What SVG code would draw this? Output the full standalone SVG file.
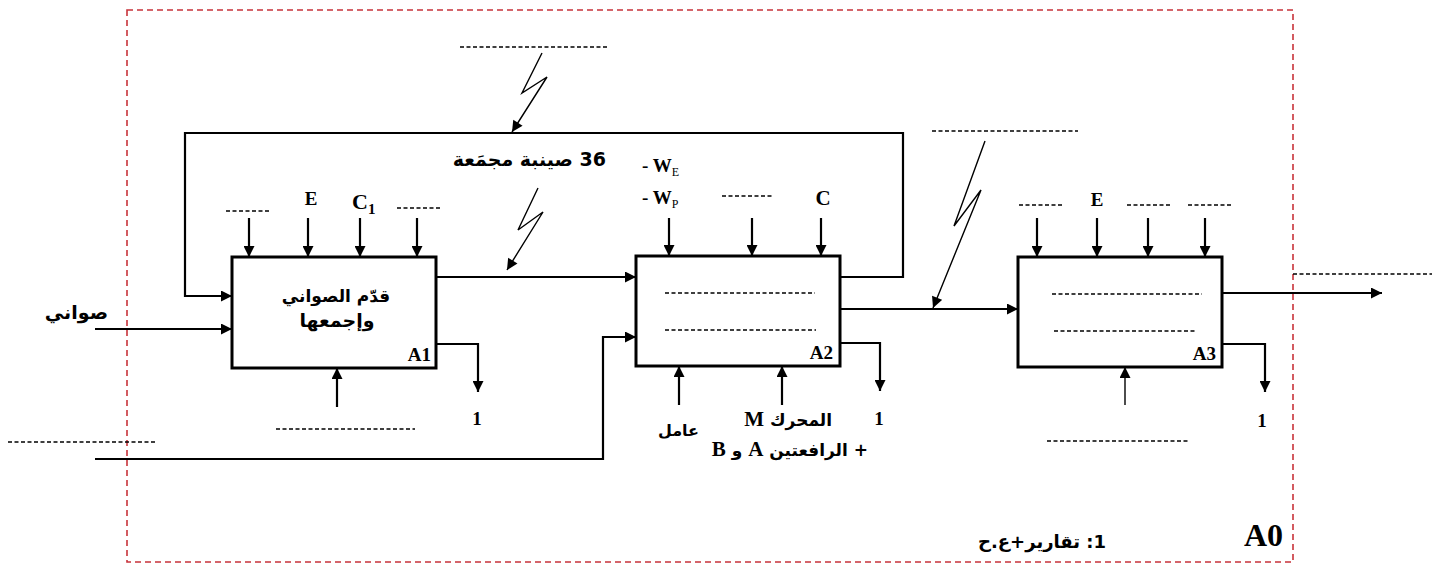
<svg xmlns="http://www.w3.org/2000/svg" width="1438" height="566" viewBox="0 0 1438 566">
<defs>
<marker id="ah" viewBox="0 0 10 10" refX="10" refY="5" markerWidth="13" markerHeight="11" markerUnits="userSpaceOnUse" orient="auto">
<path d="M0,0 L10,5 L0,10 z" fill="#000"/>
</marker>
</defs>
<style>
.box{fill:#fff;stroke:#000;stroke-width:3}
.ln{fill:none;stroke:#000;stroke-width:2.2}
.thin{fill:none;stroke:#000;stroke-width:1.4}
.dash{fill:none;stroke:#000;stroke-width:1.5;stroke-dasharray:4 2.5}
.frame{fill:none;stroke:#c8323a;stroke-width:1.6;stroke-dasharray:6 4}
.lat{font-family:"Liberation Serif",serif;font-weight:bold;fill:#000}
.ar{font-family:"DejaVu Sans",sans-serif;font-weight:bold;fill:#000}
</style>
<rect id="frame" class="frame" x="127" y="10" width="1166" height="552"/>

<g id="connectors">
<polyline class="ln" points="840,277 903,277 903,133 185,133 185,296 232,296" marker-end="url(#ah)"/>
<line class="ln" x1="95" y1="329" x2="232" y2="329" marker-end="url(#ah)"/>
<line class="ln" x1="436" y1="277" x2="636" y2="277" marker-end="url(#ah)"/>
<polyline class="ln" points="95,459 603,459 603,337 636,337" marker-end="url(#ah)"/>
<line class="ln" x1="840" y1="309" x2="1018" y2="309" marker-end="url(#ah)"/>
<line class="ln" x1="1222" y1="293" x2="1382" y2="293" marker-end="url(#ah)"/>
<line class="ln" x1="249" y1="218" x2="249" y2="257" marker-end="url(#ah)"/>
<line class="ln" x1="308" y1="218" x2="308" y2="257" marker-end="url(#ah)"/>
<line class="ln" x1="360" y1="218" x2="360" y2="257" marker-end="url(#ah)"/>
<line class="ln" x1="417" y1="218" x2="417" y2="257" marker-end="url(#ah)"/>
<line class="ln" x1="669" y1="218" x2="669" y2="256" marker-end="url(#ah)"/>
<line class="ln" x1="752" y1="218" x2="752" y2="256" marker-end="url(#ah)"/>
<line class="ln" x1="821" y1="218" x2="821" y2="256" marker-end="url(#ah)"/>
<line class="ln" x1="1037" y1="218" x2="1037" y2="257" marker-end="url(#ah)"/>
<line class="ln" x1="1097" y1="218" x2="1097" y2="257" marker-end="url(#ah)"/>
<line class="ln" x1="1148" y1="218" x2="1148" y2="257" marker-end="url(#ah)"/>
<line class="ln" x1="1205" y1="218" x2="1205" y2="257" marker-end="url(#ah)"/>
<line class="ln" x1="337" y1="407" x2="337" y2="368" marker-end="url(#ah)"/>
<line class="ln" x1="679" y1="405" x2="679" y2="366" marker-end="url(#ah)"/>
<line class="ln" x1="782" y1="405" x2="782" y2="366" marker-end="url(#ah)"/>
<line class="thin" x1="1125" y1="405" x2="1125" y2="367" marker-end="url(#ah)"/>
<polyline class="ln" points="436,344 478,344 478,392" marker-end="url(#ah)"/>
<polyline class="ln" points="840,343 880,343 880,391" marker-end="url(#ah)"/>
<polyline class="ln" points="1222,344 1265,344 1265,392" marker-end="url(#ah)"/>
<polyline class="thin" points="542,53 522,93 547,77 512,132" marker-end="url(#ah)"/>
<polyline class="thin" points="538,188 518,230 543,212 507,270" marker-end="url(#ah)"/>
<polyline class="thin" points="985,141 954,226 981,190 933,308" marker-end="url(#ah)"/>
</g>

<g id="labels">
<line class="dash" x1="460" y1="47" x2="607" y2="47"/>
<line class="dash" x1="932" y1="131" x2="1078" y2="131"/>
<line class="dash" x1="8" y1="442" x2="157" y2="442"/>
<line class="dash" x1="1293" y1="274" x2="1432" y2="274"/>
<line class="dash" x1="276" y1="429" x2="415" y2="429"/>
<line class="dash" x1="1047" y1="441" x2="1188" y2="441"/>
<line class="dash" x1="226" y1="211" x2="270" y2="211"/>
<line class="dash" x1="397" y1="208" x2="441" y2="208"/>
<line class="dash" x1="722" y1="196" x2="773" y2="196"/>
<line class="dash" x1="1019" y1="205" x2="1064" y2="205"/>
<line class="dash" x1="1127" y1="205" x2="1172" y2="205"/>
<line class="dash" x1="1188" y1="205" x2="1233" y2="205"/>
<text class="ar" x="606" y="166" font-size="19" direction="rtl" text-anchor="start">36 صينبة مجمَعة</text>
<text class="ar" x="108" y="319" font-size="19" direction="rtl" text-anchor="start">صواني</text>
<text class="lat" x="311" y="205" font-size="19" text-anchor="middle">E</text>
<text class="lat" x="352" y="209" font-size="22" font-weight="normal">C<tspan font-size="15" dy="5" font-weight="bold">1</tspan></text>
<text class="lat" x="642" y="172" font-size="19">- W<tspan font-size="12" dy="4" font-weight="normal">E</tspan></text>
<text class="lat" x="642" y="204" font-size="19">- W<tspan font-size="12" dy="4" font-weight="normal">P</tspan></text>
<text class="lat" x="823" y="205" font-size="21" font-weight="normal" text-anchor="middle">C</text>
<text class="lat" x="1097" y="206" font-size="19" text-anchor="middle">E</text>
<text class="lat" x="477" y="425" font-size="19" text-anchor="middle">1</text>
<text class="lat" x="879" y="425" font-size="19" text-anchor="middle">1</text>
<text class="lat" x="1262" y="427" font-size="19" text-anchor="middle">1</text>
<text class="ar" x="699" y="436" font-size="16" direction="rtl" text-anchor="start">عامل</text>
<text class="ar" x="832" y="426" font-size="17" direction="rtl" text-anchor="start">المحرك <tspan class="lat" font-size="21">M</tspan></text>
<text class="ar" x="868" y="456" font-size="17" direction="rtl" text-anchor="start">+ الرافعتين <tspan class="lat" font-size="21">A</tspan> و <tspan class="lat" font-size="21">B</tspan></text>
<text class="ar" x="1106" y="548" font-size="18" direction="rtl" text-anchor="start">1: تقارير+ع.ح</text>
<text class="lat" x="1283" y="546" font-size="32" text-anchor="end">A0</text>
</g>

<g id="A1">
<rect class="box" x="232" y="257" width="204" height="111"/>
<text class="ar" x="336" y="302" font-size="17" text-anchor="middle" direction="rtl">قدّم الصواني</text>
<text class="ar" x="337" y="327" font-size="19" text-anchor="middle" direction="rtl">وإجمعها</text>
<text class="lat" x="431" y="361" font-size="19" text-anchor="end">A1</text>
</g>

<g id="A2">
<rect class="box" x="636" y="256" width="204" height="110"/>
<line class="dash" x1="665" y1="293" x2="815" y2="293"/>
<line class="dash" x1="665" y1="330" x2="816" y2="330"/>
<text class="lat" x="833" y="359" font-size="19" text-anchor="end">A2</text>
</g>

<g id="A3">
<rect class="box" x="1018" y="257" width="204" height="110"/>
<line class="dash" x1="1052" y1="294" x2="1202" y2="294"/>
<line class="dash" x1="1054" y1="331" x2="1197" y2="331"/>
<text class="lat" x="1216" y="360" font-size="19" text-anchor="end">A3</text>
</g>
</svg>
